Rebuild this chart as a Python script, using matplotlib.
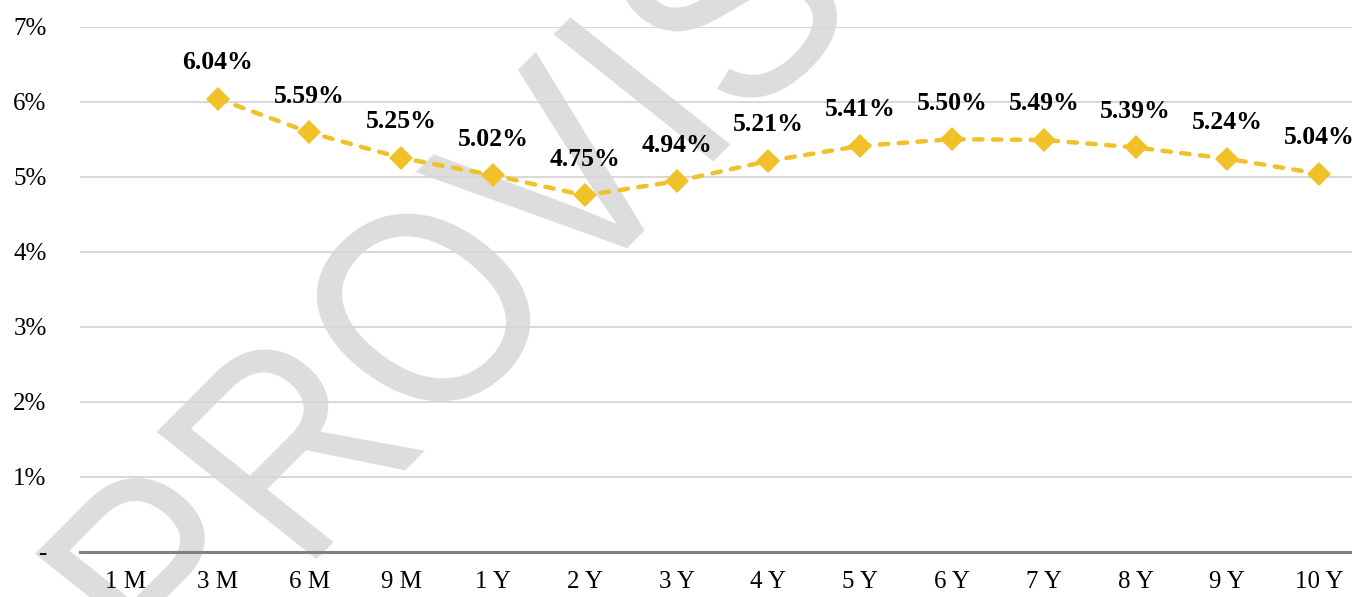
import numpy as np
import matplotlib
matplotlib.use("Agg")
import matplotlib.pyplot as plt
from matplotlib.patches import PathPatch
from matplotlib.textpath import TextPath
from matplotlib.font_manager import FontProperties
from matplotlib.transforms import Affine2D
from matplotlib.ticker import FuncFormatter, MultipleLocator

# Tenors and rates (1 M has no point)
tenors = ["1 M", "3 M", "6 M", "9 M", "1 Y", "2 Y", "3 Y", "4 Y",
          "5 Y", "6 Y", "7 Y", "8 Y", "9 Y", "10 Y"]
rates = [np.nan, 6.04, 5.59, 5.25, 5.02, 4.75, 4.94, 5.21,
         5.41, 5.50, 5.49, 5.39, 5.24, 5.04]
watermark = "PROVISIONAL"

W, H = 1352, 597
plt.rcParams["font.family"] = ["Liberation Serif", "DejaVu Serif"]
plt.rcParams["font.size"] = 18

fig = plt.figure(figsize=(W / 100, H / 100), dpi=100)
fig.patch.set_facecolor("white")

# axes run slightly past the right edge, like the cropped original
ax = fig.add_axes([80 / W, (H - 551.7) / H, 1285 / W, 525 / H])
ax.set_facecolor("none")

# watermark behind everything, placed in pixel space
# (slightly condensed letters, rotated, then sheared by a horizontal stretch)
wm_path = TextPath((0, 0), watermark, size=278,
                   prop=FontProperties(family="Liberation Sans"))
wm_tf = (Affine2D().scale(0.88, 1.0).rotate_deg(48.3).scale(1.12, 1.0)
         .translate(180, -99)
         + Affine2D().scale(1 / W, 1 / H) + fig.transFigure)
wm = PathPatch(wm_path, facecolor="#dddddd", edgecolor="none",
               transform=wm_tf, zorder=-5)
fig.add_artist(wm)

x = np.arange(len(tenors))
y = np.array(rates, dtype=float)
line, = ax.plot(x, y, color="#F0C129", lw=3.2, marker="D", ms=11.8,
                markeredgewidth=0, zorder=5, dash_capstyle="round")
line.set_dashes((1.9, 2.35))

for i, v in enumerate(rates):
    if np.isnan(v):
        continue
    ax.annotate(f"{v:.2f}%", (i, v), xytext=(0, 26), textcoords="offset points",
                ha="center", va="center", fontweight="bold", fontsize=18.5,
                zorder=6, annotation_clip=False)

ax.set_xlim(-0.5, len(tenors) - 0.5)
ax.set_ylim(0, 7)
ax.yaxis.set_major_locator(MultipleLocator(1))
ax.yaxis.set_major_formatter(FuncFormatter(lambda v, p: "-" if v == 0 else f"{v:.0f}%"))
ax.set_xticks(x)
ax.set_xticklabels(tenors)
ax.tick_params(axis="both", length=0, labelsize=18)
ax.tick_params(axis="y", pad=24)
ax.tick_params(axis="x", pad=14)

ax.grid(axis="y", color="#d6d6d6", lw=1.3, zorder=0)
ax.set_axisbelow(True)
for s in ["top", "right", "left"]:
    ax.spines[s].set_visible(False)
ax.spines["bottom"].set_color("#808080")
ax.spines["bottom"].set_linewidth(2.2)

fig.savefig("out.png", dpi=100)
